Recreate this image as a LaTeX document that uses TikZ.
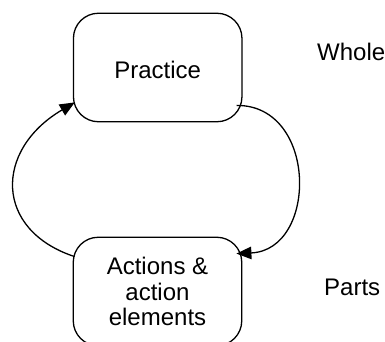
\documentclass[tikz,border=0pt]{standalone}
\usepackage{fontspec}
\setmainfont{Liberation Sans}
\usetikzlibrary{arrows.meta,calc}
\begin{document}
\begin{tikzpicture}[x=1pt,y=-1pt,
 box/.style={draw, line width=1.3pt, rounded corners=25pt, minimum width=168.5pt, minimum height=108.5pt, inner sep=0pt, align=center, font=\fontsize{24}{25.5}\selectfont},
 lbl/.style={font=\fontsize{24}{25.5}\selectfont, inner sep=0pt, anchor=base west},
 conn/.style={line width=1.3pt, -{Triangle[length=15pt,width=12.5pt]}}]
\useasboundingbox (0,0) rectangle (385,342);
\clip (0,0) rectangle (385,342);
\node[box, text height=21.6pt, text depth=0pt] (pr) at (157.7,67.5) {Practice};
\node[box] (ac) at (157.5,291.5) {Actions \&\\action\\elements};
\node[lbl] (wh) at (317,60.7) {Whole};
\node[lbl] (pa) at (324,295) {Parts};
\draw[conn] ($(ac.north west)+(2,20)$) .. controls (-6,230) and (-6,150) .. ($(pr.south west)+(2,-20)$);
\draw[conn] ($(pr.south east)+(-6,-17)$) .. controls (318,105) and (318,250) .. ($(ac.north east)+(-6,17)$);
\end{tikzpicture}
\end{document}
